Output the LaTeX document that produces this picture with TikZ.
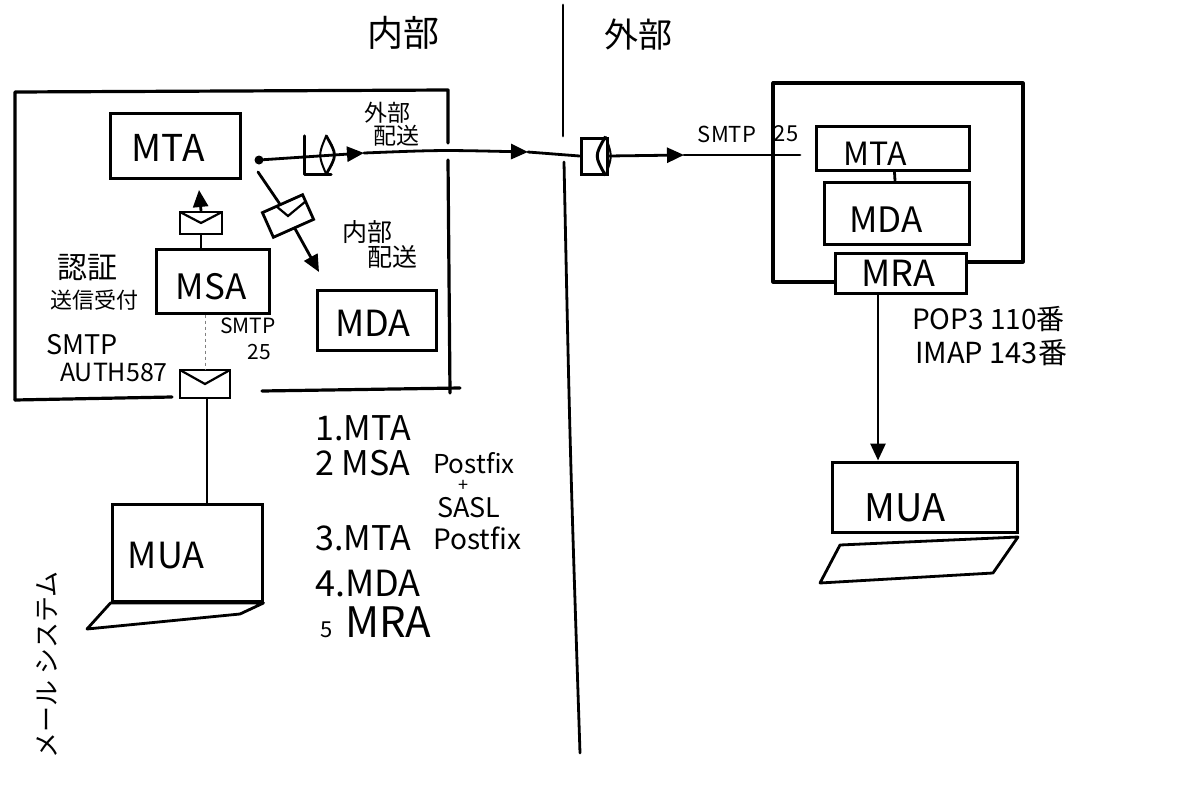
\documentclass[tikz,border=0pt]{standalone}
\usepackage{fontspec}
\setmainfont{Noto Sans CJK JP}
\usetikzlibrary{arrows.meta}
\newcommand\myfs[1]{\fontsize{#1}{#1}\selectfont}
\begin{document}
\begin{tikzpicture}[x=1pt,y=-1pt,
  box/.style={draw,line width=3pt,inner sep=0pt},
  ln/.style={line width=2.8pt,line cap=round,line join=round},
  frame/.style={line width=3.2pt,line cap=round,line join=round},
  tip/.style={-{Triangle[length=17pt,width=15pt]}},
  envelope/.style={draw,line width=2.8pt,inner sep=0pt,
    path picture={\draw[line width=2.2pt] (path picture bounding box.north west) -- (path picture bounding box.center) -- (path picture bounding box.north east);}},
  lbl/.style={inner sep=0pt}
]
\useasboundingbox (0,0) rectangle (1200,787);
\fill[white] (0,0) rectangle (1200,787);

% ---- titles and divider
\node[lbl,font=\myfs{36}] (tin) at (403,33) {内部};
\node[lbl,font=\myfs{34}] (tout) at (638,35) {外部};
\draw[ln] (563,5) -- (563,136);
\draw[ln] (564,162) .. controls (570,450) .. (580,753);

% ---- left outer frame
\draw[frame] (15,400) -- (15,92) -- (448,90) -- (448,143);
\draw[frame] (448,160) -- (450,393);
\draw[frame] (15,400) -- (172,397);
\draw[frame] (262,391) -- (460,388);

% ---- left boxes
\node[box,minimum width=130pt,minimum height=65pt] (mtaL) at (175,146) {};
\node[box,minimum width=113pt,minimum height=64pt] (msa) at (213,281) {};
\node[box,minimum width=119pt,minimum height=60pt] (mdaL) at (377,320) {};
\node[lbl,font=\myfs{37}] (mtaLt) at (168,148) {MTA};
\node[lbl,font=\myfs{35}] (msat) at (211,287) {MSA};
\node[lbl,font=\myfs{36}] (mdaLt) at (373,323) {MDA};

% ---- right boxes
\node[box,minimum width=153pt,minimum height=44pt] (mtaR) at (893,148) {};
\node[box,minimum width=145pt,minimum height=62pt] (mdaR) at (897,213) {};
\node[box,minimum width=131pt,minimum height=40pt] (mraR) at (901,273) {};
\node[lbl,font=\myfs{32}] (mtaRt) at (875,154) {MTA};
\node[lbl,font=\myfs{35}] (mdaRt) at (886,220) {MDA};
\node[lbl,font=\myfs{36}] (mraRt) at (898,273) {MRA};

% envelopes
\node[envelope,minimum width=42pt,minimum height=22pt] (envA) at (201,223) {};
\node[envelope,minimum width=50pt,minimum height=28pt] (envB) at (205,384) {};
\node[envelope,minimum width=44pt,minimum height=27pt,rotate=24] (envD) at (288,216) {};

% cup icon on the outgoing line
\node[lbl,minimum width=26pt,minimum height=38pt] (cupA) at (318,155) {};
\draw[ln] (cupA.north west) -- (cupA.south west) -- (cupA.south east);
\draw[ln] ([xshift=-5pt]cupA.north east) .. controls ([xshift=6pt]cupA.east) .. ([xshift=-5pt]cupA.south east);
\draw[line width=2pt] ([xshift=-5pt]cupA.north east) .. controls ([xshift=-13pt]cupA.east) .. ([xshift=-5pt]cupA.south east);

% plug icon on the border
\node[box,minimum width=26pt,minimum height=36pt] (plug) at (594,156) {};
\draw[line width=3pt] ([xshift=-3pt]plug.north east) .. controls ([xshift=-14pt]plug.east) .. ([xshift=-3pt]plug.south east);
\draw[line width=2pt] ([xshift=-3pt]plug.north east) .. controls ([xshift=4pt]plug.east) .. ([xshift=-3pt]plug.south east);

% ---- connectors
\coordinate (dotA) at (259,160);
\coordinate (a1) at (364,153);
\coordinate (a2) at (528,152);
\coordinate (a3) at (684,155);
\coordinate (rIn) at (800,155);
\coordinate (upTip) at (199,190);
\coordinate (d0) at (258,172);
\coordinate (d1) at (319,272);
\fill (dotA) circle (4.5pt);
\draw[ln,tip] (dotA) -- (a1);
\draw[ln,tip] (a1) .. controls (440,150) .. (a2);
\draw[ln] (a2) -- (plug.west);
\draw[ln,tip] (plug.east) -- (a3);
\draw[ln] (a3) -- (rIn);

\draw[ln] (envA |- msa.north) -- (envA.south);
\draw[ln,tip] (envA.north) -- (upTip);
\draw[ln] (d0) -- (envD);
\draw[ln,tip] (envD) -- (d1);
\draw[line width=1pt,gray,dashed] (envB |- msa.south) -- (envB.north);

% ---- left MUA (laptop)
\node[box,minimum width=150pt,minimum height=97pt] (muaL) at (187,553) {};
\node[lbl,font=\myfs{36}] (muaLt) at (166,556) {MUA};
\draw[ln] ([xshift=2pt]envB.south) -- ([xshift=2pt]envB.south |- muaL.north);
\draw[ln] (muaL.south west) -- (muaL.south east) -- (240,614) -- (87,629) -- cycle;

% ---- left labels
\node[lbl,font=\myfs{30}] (ninsho) at (87,268) {認証};
\node[lbl,font=\myfs{22}] (soshin) at (94,300) {送信受付};
\node[lbl,font=\myfs{27},anchor=west] (smtpA) at (46,345) {SMTP};
\node[lbl,font=\myfs{25},anchor=west] (auth) at (60,372) {AUTH587};
\node[lbl,font=\myfs{21}] (smtpB) at (248,326) {SMTP};
\node[lbl,font=\myfs{21}] (p25B) at (259,352) {25};
\node[lbl,font=\myfs{23},align=center] (gaibu) at (396,124) {\hspace*{-18pt}外部\\配送};
\node[lbl,font=\myfs{25},align=center] (naibu) at (382,244) {\hspace*{-30pt}内部\\\hspace*{20pt}配送};

% ---- right frame and labels
\draw[ln] (mtaR) -- (mdaR);
\coordinate (rb) at (0,282);
\coordinate (rt) at (0,262);
\draw[frame] (mraR.west |- rb) -- (773,282) -- (773,83) -- (1023,83) -- (1023,262) -- (mraR.east |- rt);
\node[lbl,font=\myfs{22}] (smtpR) at (727,134) {SMTP};
\node[lbl,font=\myfs{22}] (p25R) at (786,134) {25};
\node[lbl,font=\myfs{28},anchor=west] (pop) at (912,319) {POP3 110番};
\node[lbl,font=\myfs{29},anchor=west] (imap) at (915,353) {IMAP 143番};

% right MUA
\node[box,minimum width=185pt,minimum height=70pt] (muaR) at (925,497) {};
\node[lbl,font=\myfs{38}] (muaRt) at (905,508) {MUA};
\coordinate (rx) at (878,0);
\draw[ln,tip] (rx |- mraR.south) -- (rx |- muaR.north);
\draw[ln] (840,545) -- (1018,537) -- (993,573) -- (820,583) -- cycle;

% ---- list
\node[lbl,font=\myfs{34},anchor=west] (l1) at (315,428) {1.MTA};
\node[lbl,font=\myfs{34},anchor=west] (l2) at (315,463) {2 MSA};
\node[lbl,font=\myfs{26},anchor=west] (l2b) at (433,463) {Postfix};
\node[lbl,font=\myfs{18}] (l2c) at (463,486) {+};
\node[lbl,font=\myfs{27},anchor=west] (l2d) at (437,508) {SASL};
\node[lbl,font=\myfs{34},anchor=west] (l3) at (315,538) {3.MTA};
\node[lbl,font=\myfs{28},anchor=west] (l3b) at (433,538) {Postfix};
\node[lbl,font=\myfs{36},anchor=west] (l4) at (315,584) {4.MDA};
\node[lbl,font=\myfs{22}] (l5) at (327,630) {5};
\node[lbl,font=\myfs{42},anchor=west] (l5b) at (345,622) {MRA};

% ---- vertical caption
\node[lbl,font=\myfs{26},rotate=90] (cap) at (47,665) {メール システム};
\end{tikzpicture}
\end{document}
